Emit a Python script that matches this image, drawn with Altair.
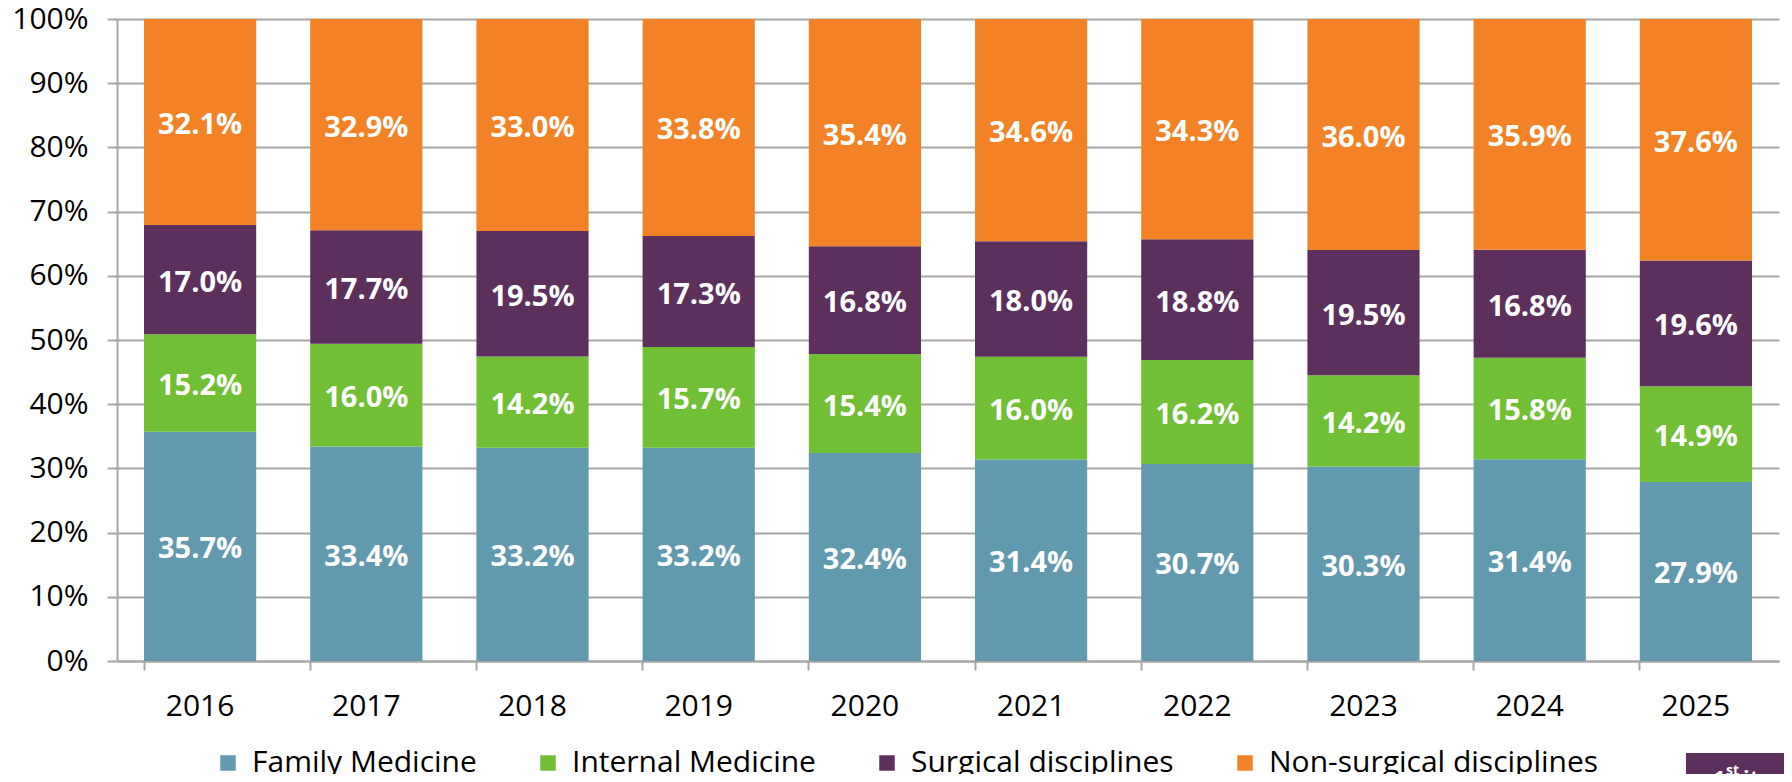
import altair as alt
import pandas as pd

years = ["2016", "2017", "2018", "2019", "2020", "2021", "2022", "2023", "2024", "2025"]
categories = ["Family Medicine", "Internal Medicine", "Surgical disciplines", "Non-surgical disciplines"]
family = [35.7, 33.4, 33.2, 33.2, 32.4, 31.4, 30.7, 30.3, 31.4, 27.9]
internal = [15.2, 16.0, 14.2, 15.7, 15.4, 16.0, 16.2, 14.2, 15.8, 14.9]
surgical = [17.0, 17.7, 19.5, 17.3, 16.8, 18.0, 18.8, 19.5, 16.8, 19.6]
nonsurgical = [32.1, 32.9, 33.0, 33.8, 35.4, 34.6, 34.3, 36.0, 35.9, 37.6]
colors = ["#6199ae", "#70bf35", "#5c2f5d", "#f28225"]
badge_text = ["1", "st", "iteration"]

series = [family, internal, surgical, nonsurgical]
rows = []
for ci, (cat, vals) in enumerate(zip(categories, series)):
    for y, v in zip(years, vals):
        rows.append({"year": y, "category": cat, "order": ci, "value": v,
                     "label": f"{v:.1f}%"})
df = pd.DataFrame(rows)

FONT = "Open Sans"
W, H = 1662, 642

x = alt.X("year:N", sort=years, title=None,
          scale=alt.Scale(paddingInner=0.325, paddingOuter=0.1625),
          axis=alt.Axis(labelAngle=0, labelFontSize=30, labelFont=FONT, labelColor="#000000",
                        labelPadding=21, tickSize=9, tickColor="#a6a6a6", tickWidth=2,
                        bandPosition=0, domainColor="#a6a6a6", domainWidth=2, grid=False))

bars = alt.Chart(df).mark_bar().encode(
    x=x,
    y=alt.Y("value:Q", stack="normalize", title=None,
            scale=alt.Scale(domain=[0, 1], nice=False),
            axis=alt.Axis(format=".0%", values=[i / 10 for i in range(11)],
                          labelFontSize=30, labelFont=FONT, labelColor="#000000",
                          labelPadding=19, tickSize=10, tickColor="#a6a6a6", tickWidth=2,
                          domainColor="#a6a6a6", domainWidth=2,
                          gridColor="#a6a6a6", gridWidth=2)),
    color=alt.Color("category:N", sort=categories,
                    scale=alt.Scale(domain=categories, range=colors),
                    legend=alt.Legend(orient="none", direction="horizontal", title=None,
                                      legendX=96, legendY=729, symbolType="square",
                                      symbolSize=240, symbolStrokeWidth=0, symbolOpacity=1,
                                      labelFontSize=30, labelFont=FONT, labelColor="#000000",
                                      labelOffset=9, columnPadding=56, padding=0,
                                      labelLimit=600)),
    order=alt.Order("order:Q"),
)

labels = alt.Chart(df).mark_text(color="white", fontSize=29, font=FONT, fontWeight="bold",
                                 baseline="middle", dy=3).encode(
    x=alt.X("year:N", sort=years),
    y=alt.Y("value:Q", stack="normalize", bandPosition=0.5),
    detail="category:N",
    text="label:N",
    order=alt.Order("order:Q"),
)

# decorative cut-off badge at the bottom right corner
badge_df = pd.DataFrame({"t": ["badge"]})
badge = alt.Chart(badge_df).mark_rect(color="#5c2f5d").encode(
    x=alt.value(W - 93), x2=alt.value(W + 20), y=alt.value(H + 92), y2=alt.value(H + 140)
)
b1 = alt.Chart(badge_df).mark_text(color="white", fontSize=22, font=FONT, fontWeight="bold",
                                   align="left", baseline="alphabetic").encode(
    x=alt.value(W - 66), y=alt.value(H + 125), text=alt.value(badge_text[0]))
b2 = alt.Chart(badge_df).mark_text(color="white", fontSize=14, font=FONT, fontWeight="bold",
                                   align="left", baseline="alphabetic").encode(
    x=alt.value(W - 53), y=alt.value(H + 114), text=alt.value(badge_text[1]))
b3 = alt.Chart(badge_df).mark_text(color="white", fontSize=22, font=FONT, fontWeight="bold",
                                   align="left", baseline="alphabetic").encode(
    x=alt.value(W - 36), y=alt.value(H + 125), text=alt.value(badge_text[2]))

chart = alt.layer(bars, labels, badge, b1, b2, b3).properties(
    width=W, height=H,
    autosize=alt.AutoSizeParams(type="none"),
    padding={"left": 109, "top": 11, "right": 5, "bottom": 113},
).configure_view(stroke=None).configure_axisX(grid=False)

chart.save("out.html", embed_options={"renderer": "svg", "actions": False})
